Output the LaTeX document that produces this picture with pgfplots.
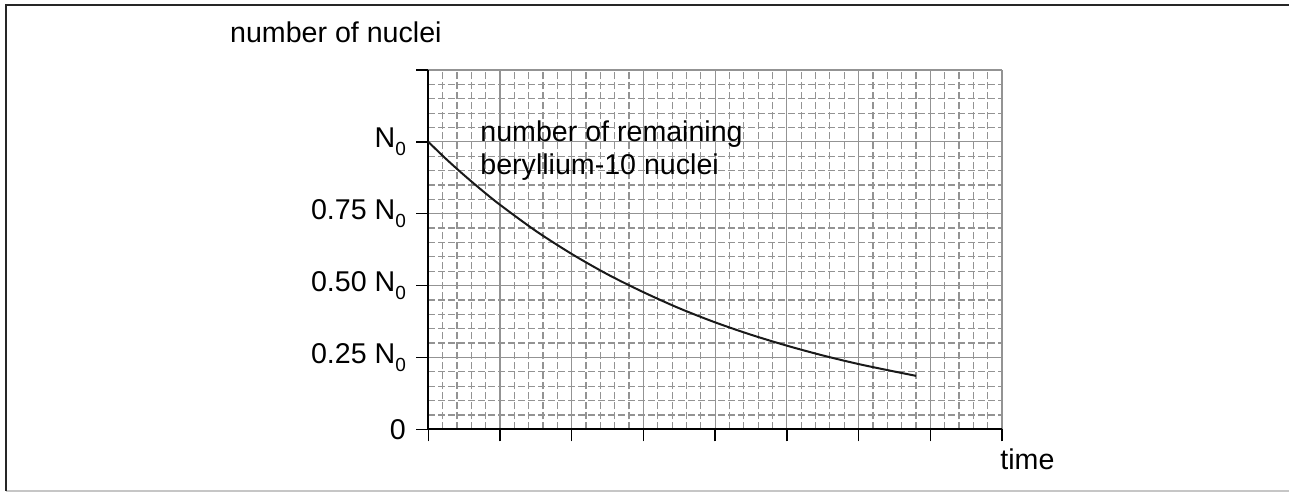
\documentclass[border=0pt]{standalone}
\usepackage{fontspec}
\setmainfont{Liberation Sans}
\usepackage{pgfplots}
\pgfplotsset{compat=1.18}

% 1 px of the reference = 0.5pt
\newcommand\lab{\fontsize{14.3pt}{16.5pt}\selectfont}
\newcommand\Nz{N\raisebox{-0.5ex}{\fontsize{9.5pt}{9.5pt}\selectfont 0}}

\begin{document}
\lab
\begin{tikzpicture}
\useasboundingbox (-214.15pt,-31.35pt) rectangle (430.35pt,214.65pt);

% frame
\draw[line width=0.8pt,gray!45] (-211.15pt,-30.8pt) -- (430.35pt,-30.8pt);
\draw[line width=1.1pt,black!85] (-211.15pt,-30.8pt) -- (-211.15pt,212.15pt) -- (430.35pt,212.15pt);

\begin{axis}[%
at={(0,0)},
anchor=south west,
width=286.85pt,
height=179.65pt,
scale only axis,
axis lines*=left,
xmin=0, xmax=8,
ymin=0, ymax=1.25,
xtick={0,1,...,8},
xticklabels={{},{},{},{},{},{},{},{},{}},
ytick={0,0.25,0.5,0.75,1,1.25},
yticklabels={0, 0.25 \Nz, 0.50 \Nz, 0.75 \Nz, \Nz, {}},
minor x tick num=4,
minor y tick num=4,
grid=both,
minor grid style={gray!85, line width=0.6pt, dash pattern=on 3.5pt off 1.5pt},
major grid style={gray!85, line width=0.6pt},
tick align=outside,
major tick length=6pt,
minor tick length=0pt,
tick style={black, line width=0.75pt},
axis line style={black, line width=1pt},
ticklabel style={font=\lab},
yticklabel style={inner sep=0pt, xshift=-5pt},
clip=false
]
\addplot [black!90, line width=1pt, smooth] coordinates {
(0,1) (0.25,0.940) (0.5,0.884) (0.75,0.831) (1,0.781) (1.5,0.690)
(2,0.610) (2.5,0.539) (3,0.477) (3.5,0.421) (4,0.372) (4.5,0.329)
(5,0.291) (5.5,0.257) (6,0.227) (6.5,0.201) (6.8,0.186)
};
\end{axis}

\node[anchor=base east, inner sep=0pt, font=\lab] at (6.85pt,193.15pt) {number of nuclei};
\node[anchor=base west, inner sep=0pt, font=\lab] at (285.85pt,-20.35pt) {time};
\node[anchor=base west, inner sep=0pt, font=\lab] at (25.85pt,143.65pt) {number of remaining};
\node[anchor=base west, inner sep=0pt, font=\lab] at (25.85pt,127.15pt) {beryllium-10 nuclei};
\end{tikzpicture}
\end{document}
